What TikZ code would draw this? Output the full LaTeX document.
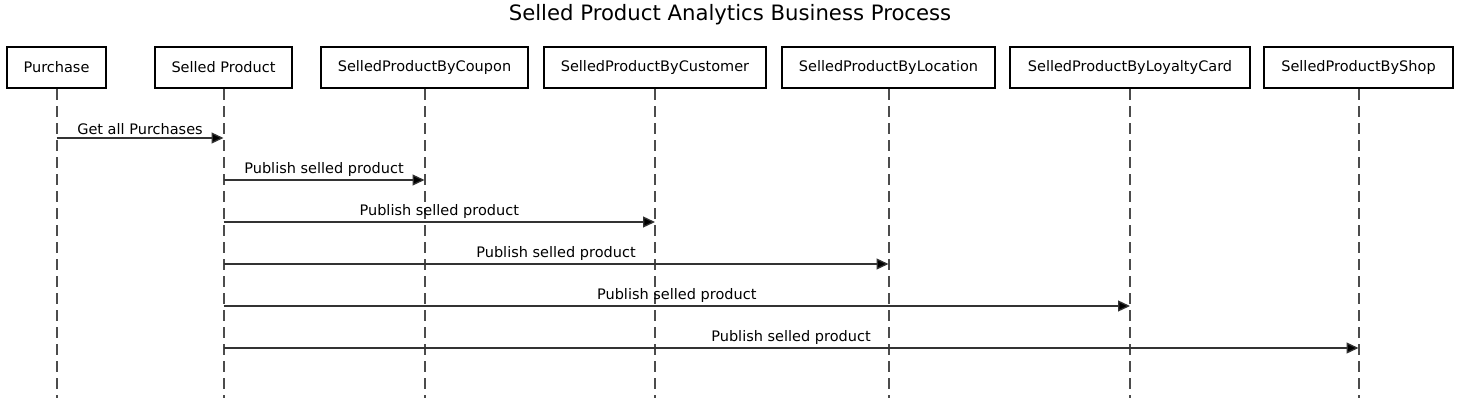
\documentclass[tikz,border=0pt]{standalone}
\usepackage{fontspec}
\setmainfont{DejaVu Sans}
\usetikzlibrary{arrows.meta}
\begin{document}
\begin{tikzpicture}[x=1pt,y=-1pt,
  actor/.style={draw=black, line width=2pt, fill=white, minimum height=41pt, inner sep=0pt, font=\fontsize{14.5}{17}\selectfont},
  life/.style={draw=black!70, line width=2pt, dash pattern=on 11pt off 6pt},
  msg/.style={draw=black!80, line width=1.3pt, -{Triangle[length=12pt,width=11pt,fill=black]}},
  lbl/.style={font=\fontsize{14.5}{17}\selectfont, above, inner sep=3pt, text=black}
]
\useasboundingbox (0,0) rectangle (1460,402);
\node[font=\fontsize{21.2}{25}\selectfont] (title) at (730,15) {Selled Product Analytics Business Process};
\coordinate (bot) at (0,398);
\foreach \y [count=\i] in {138,180,222,264,306,348} { \coordinate (y\i) at (0,\y); }
\node[actor, minimum width=99pt] (pu) at (56.5,67.5) {Purchase};
\node[actor, minimum width=137pt] (sp) at (223.5,67.5) {Selled Product};
\node[actor, minimum width=207pt] (co) at (424.5,67.5) {SelledProductByCoupon};
\node[actor, minimum width=222pt] (cu) at (655,67.5) {SelledProductByCustomer};
\node[actor, minimum width=213pt] (lo) at (888.5,67.5) {SelledProductByLocation};
\node[actor, minimum width=240pt] (lc) at (1130,67.5) {SelledProductByLoyaltyCard};
\node[actor, minimum width=189pt] (sh) at (1358.5,67.5) {SelledProductByShop};
\foreach \n in {pu,sp,co,cu,lo,lc,sh} { \draw[life] (\n.south) -- (\n |- bot); }
\draw[msg] (pu |- y1) -- node[lbl] {Get all Purchases} (sp |- y1);
\draw[msg] (sp |- y2) -- node[lbl] {Publish selled product} (co |- y2);
\draw[msg] (sp |- y3) -- node[lbl] {Publish selled product} (cu |- y3);
\draw[msg] (sp |- y4) -- node[lbl] {Publish selled product} (lo |- y4);
\draw[msg] (sp |- y5) -- node[lbl] {Publish selled product} (lc |- y5);
\draw[msg] (sp |- y6) -- node[lbl] {Publish selled product} (sh |- y6);
\end{tikzpicture}
\end{document}
